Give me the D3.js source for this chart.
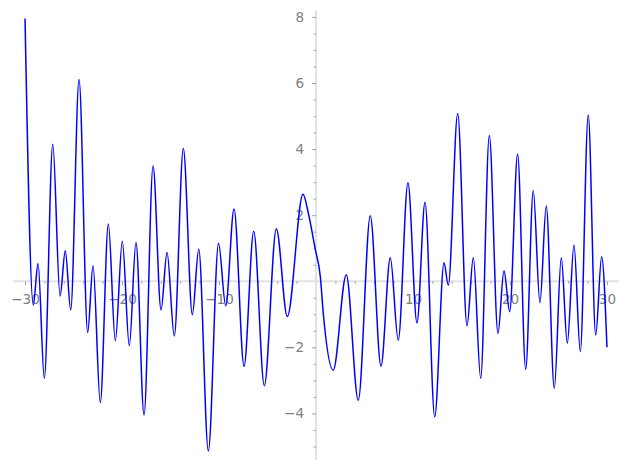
<!DOCTYPE html>
<html>
<head>
<meta charset="utf-8">
<script src="https://cdn.jsdelivr.net/npm/d3@7"></script>
<style>
  html, body { margin: 0; padding: 0; background: #fff; }
  svg { display: block; }
</style>
</head>
<body>
<svg id="chart" width="627" height="470"></svg>
<script>
// Curve samples (local extrema and a few slope points)
const xValues = [-30, -29.15, -28.66, -28.01, -27.14, -26.39, -25.85, -25.29, -24.43, -23.54,
  -22.99, -22.24, -21.41, -20.69, -19.97, -19.25, -18.56, -17.73, -16.80, -15.98,
  -15.36, -14.61, -13.68, -12.75, -12.09, -11.10, -10.05, -9.31, -8.45, -7.42,
  -6.42, -5.33, -4.09, -2.96, -1.34, -0.79, -0.10, 0.45, 0.75, 1.78,
  3.12, 4.36, 5.60, 6.70, 7.66, 8.48, 9.48, 10.41, 11.24, 12.24,
  13.20, 13.64, 14.61, 15.57, 16.22, 16.98, 17.87, 18.76, 19.38, 19.97,
  20.79, 21.62, 22.40, 23.09, 23.74, 24.57, 25.29, 25.91, 26.60, 27.25,
  28.07, 28.84, 29.45, 30];
const yValues = [7.95, -0.72, 0.54, -2.94, 4.15, -0.45, 0.92, -0.87, 6.11, -1.55,
  0.47, -3.67, 1.73, -1.80, 1.21, -1.95, 1.18, -4.05, 3.49, -0.87,
  0.87, -1.66, 4.02, -1.01, 0.97, -5.14, 1.15, -0.74, 2.19, -2.57,
  1.51, -3.16, 1.59, -1.07, 2.63, 2.06, 1.00, 0.13, -0.97, -2.69,
  0.20, -3.60, 1.98, -2.57, 0.71, -1.78, 2.98, -1.26, 2.39, -4.10,
  0.56, -0.12, 5.08, -1.35, 0.72, -2.94, 4.41, -1.58, 0.32, -0.92,
  3.85, -2.67, 2.74, -0.65, 2.28, -3.24, 0.71, -1.88, 1.10, -2.13,
  5.03, -1.63, 0.74, -2.00];

const xMajorTicks = [-30, -20, -10, 10, 20, 30];
const xMinorTicks = [-28, -26, -24, -22, -18, -16, -14, -12, -8, -6, -4, -2,
  2, 4, 6, 8, 12, 14, 16, 18, 22, 24, 26, 28];
const yMajorTicks = [-4, -2, 2, 4, 6, 8];
const yMinorTicks = [-5, -4.5, -3.5, -3, -2.5, -1.5, -1, -0.5, 0.5, 1, 1.5,
  2.5, 3, 3.5, 4.5, 5, 5.5, 6.5, 7, 7.5];

const xDomain = [-31.2, 31.2];
const yDomain = [-5.41, 8.21];

const svg = d3.select("#chart");
const x = d3.scaleLinear().domain(xDomain).range([13.4, 618.6]);
const y = d3.scaleLinear().domain(yDomain).range([460, 10]);

const fmt = d => d3.format("d")(d);
const font = "'DejaVu Sans', sans-serif";
const labelColor = "#808080";
const tickColor = "#8c8c8c";
const axisColor = "#e3e3e3";

// X axis (at y = 0)
const gx = svg.append("g").attr("transform", `translate(0,${y(0)})`);
gx.append("line").attr("x1", x.range()[0]).attr("x2", x.range()[1])
  .attr("stroke", axisColor).attr("stroke-width", 2);
gx.append("g").call(d3.axisBottom(x).tickValues(xMinorTicks).tickSize(2.5).tickFormat(""))
  .call(g => g.select(".domain").remove())
  .call(g => g.selectAll("line").attr("stroke", tickColor).attr("stroke-width", 0.8));
gx.append("g").call(d3.axisBottom(x).tickValues(xMajorTicks).tickSize(4).tickPadding(9).tickFormat(fmt))
  .call(g => g.select(".domain").remove())
  .call(g => g.selectAll("line").attr("stroke", tickColor).attr("stroke-width", 0.8))
  .call(g => g.selectAll("text").attr("fill", labelColor)
    .style("font-family", font).style("font-size", "13.5px"));

// Y axis (at x = 0)
const gy = svg.append("g").attr("transform", `translate(${x(0)},0)`);
gy.append("line").attr("y1", y.range()[0]).attr("y2", y.range()[1])
  .attr("stroke", axisColor).attr("stroke-width", 2);
gy.append("g").call(d3.axisLeft(y).tickValues(yMinorTicks).tickSize(2.5).tickFormat(""))
  .call(g => g.select(".domain").remove())
  .call(g => g.selectAll("line").attr("stroke", tickColor).attr("stroke-width", 0.8));
gy.append("g").call(d3.axisLeft(y).tickValues(yMajorTicks).tickSize(4).tickPadding(8).tickFormat(fmt))
  .call(g => g.select(".domain").remove())
  .call(g => g.selectAll("line").attr("stroke", tickColor).attr("stroke-width", 0.8))
  .call(g => g.selectAll("text").attr("fill", labelColor)
    .style("font-family", font).style("font-size", "13.5px"));

// Curve
const pts = xValues.map((v, i) => [v, yValues[i]]);
const line = d3.line().x(d => x(d[0])).y(d => y(d[1])).curve(d3.curveMonotoneX);
svg.append("path").datum(pts)
  .attr("d", line)
  .attr("fill", "none")
  .attr("stroke", "#0000ff")
  .attr("stroke-width", 1.5)
  .attr("stroke-linejoin", "round");
</script>
</body>
</html>
